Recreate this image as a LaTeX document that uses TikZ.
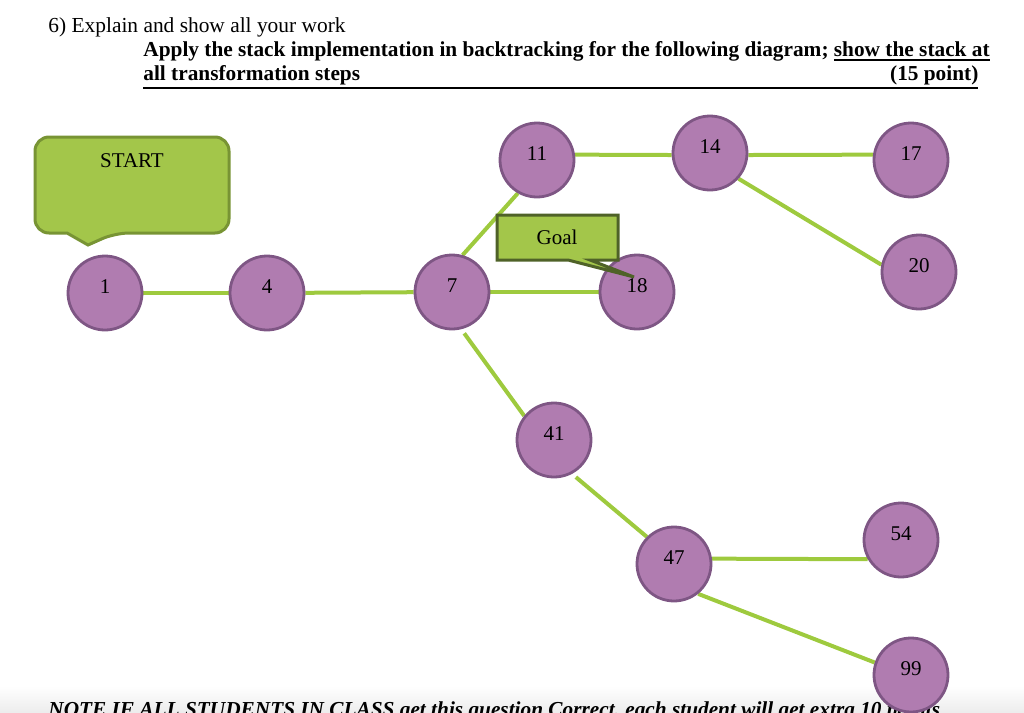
\documentclass[tikz,border=0pt]{standalone}
\usepackage{fontspec}
\setmainfont{Liberation Serif}
\newcommand{\thickul}[1]{\leavevmode\vtop{\hbox{#1}\kern1.2pt\hrule height 1pt}}
\usetikzlibrary{positioning}
\definecolor{vertexfill}{RGB}{176,124,176}
\definecolor{vertexedge}{RGB}{126,86,132}
\definecolor{linegreen}{RGB}{158,202,62}
\definecolor{calloutfill}{RGB}{163,198,74}
\definecolor{startedge}{RGB}{120,148,52}
\definecolor{goaledge}{RGB}{79,98,40}
\definecolor{bandgray}{RGB}{236,236,236}
\pgfdeclarelayer{edgelayer}
\pgfsetlayers{edgelayer,main}

\begin{document}
\begin{tikzpicture}[
x=0.5pt, y=-0.5pt,
vertex/.style={circle, draw=vertexedge, fill=vertexfill, line width=1.4pt, minimum size=37pt, inner sep=0pt, text height=7pt, text depth=7pt, font=\fontsize{10.5}{12}\selectfont},
line/.style={draw=linegreen, line width=2pt},
txt/.style={anchor=base west, inner sep=0pt},
calltext/.style={inner sep=0pt, font=\fontsize{10.5}{12}\selectfont},
startcall/.style={draw=startedge, fill=calloutfill, line width=1.5pt},
goalcall/.style={draw=goaledge, fill=calloutfill, line width=1.5pt}
]
\useasboundingbox (0,0) rectangle (1024,713);
\fill[top color=white, bottom color=bandgray] (0,686) rectangle (1024,713);

\node[txt, font=\fontsize{10.7}{13}\selectfont] (question) at (48,32) {6) Explain and show all your work};
\node[txt, font=\fontsize{10.66}{13}\selectfont\bfseries] (task) at (143,56) {Apply the stack implementation in backtracking for the following diagram; \thickul{show the stack at}};
\node[txt, font=\fontsize{10.66}{13}\selectfont\bfseries] (taskend) at (143,80) {\thickul{\makebox[417.5pt][l]{all transformation steps\hfill(15 point)}}};
\node[txt, font=\fontsize{10.65}{13}\selectfont\bfseries\itshape] (note) at (48,716) {NOTE IF ALL STUDENTS IN CLASS get this question Correct, each student will get extra 10 points};

\node[vertex] (n1) at (105,293) {1};
\node[vertex] (n4) at (267,293) {4};
\node[vertex] (n7) at (452,292) {7};
\node[vertex] (n11) at (537,160) {11};
\node[vertex] (n14) at (710,153) {14};
\node[vertex] (n17) at (911,160) {17};
\node[vertex] (n20) at (919,272) {20};
\node[vertex] (n18) at (637,292) {18};
\node[vertex] (n41) at (554,440) {41};
\node[vertex] (n47) at (674,564) {47};
\node[vertex] (n54) at (901,540) {54};
\node[vertex] (n99) at (911,675) {99};

\begin{pgfonlayer}{edgelayer}
\draw[line] (n1) -- (n4);
\draw[line] (n4) -- (n7);
\draw[line] (n7.74) -- (n11.240);
\draw[line] (n7) -- (n18);
\draw[line, shorten <=2.5pt] (n7.284) -- (n41.141);
\draw[line] (n11.8) -- (n14.183);
\draw[line] (n14.357) -- (n17.172);
\draw[line] (n14.318) -- (n20.169);
\draw[line, shorten <=2.5pt] (n41.298) -- (n47.135);
\draw[line] (n47.8) -- (n54.210);
\draw[line] (n47.309) -- (n99.161);
\end{pgfonlayer}

\draw[startcall] (67,233) [rounded corners=7pt] -| (35,137) -| (229,233) -- (115,233) [sharp corners] -- (88,245) -- cycle;
\node[calltext] (start) at (132,161) {START};
\draw[goalcall] (568,260) -- (497,260) -- (497,215) -- (618,215) -- (618,260) -- (590,260) -- (634,277) -- cycle;
\node[calltext] (goal) at (557,237) {Goal};
\end{tikzpicture}
\end{document}
